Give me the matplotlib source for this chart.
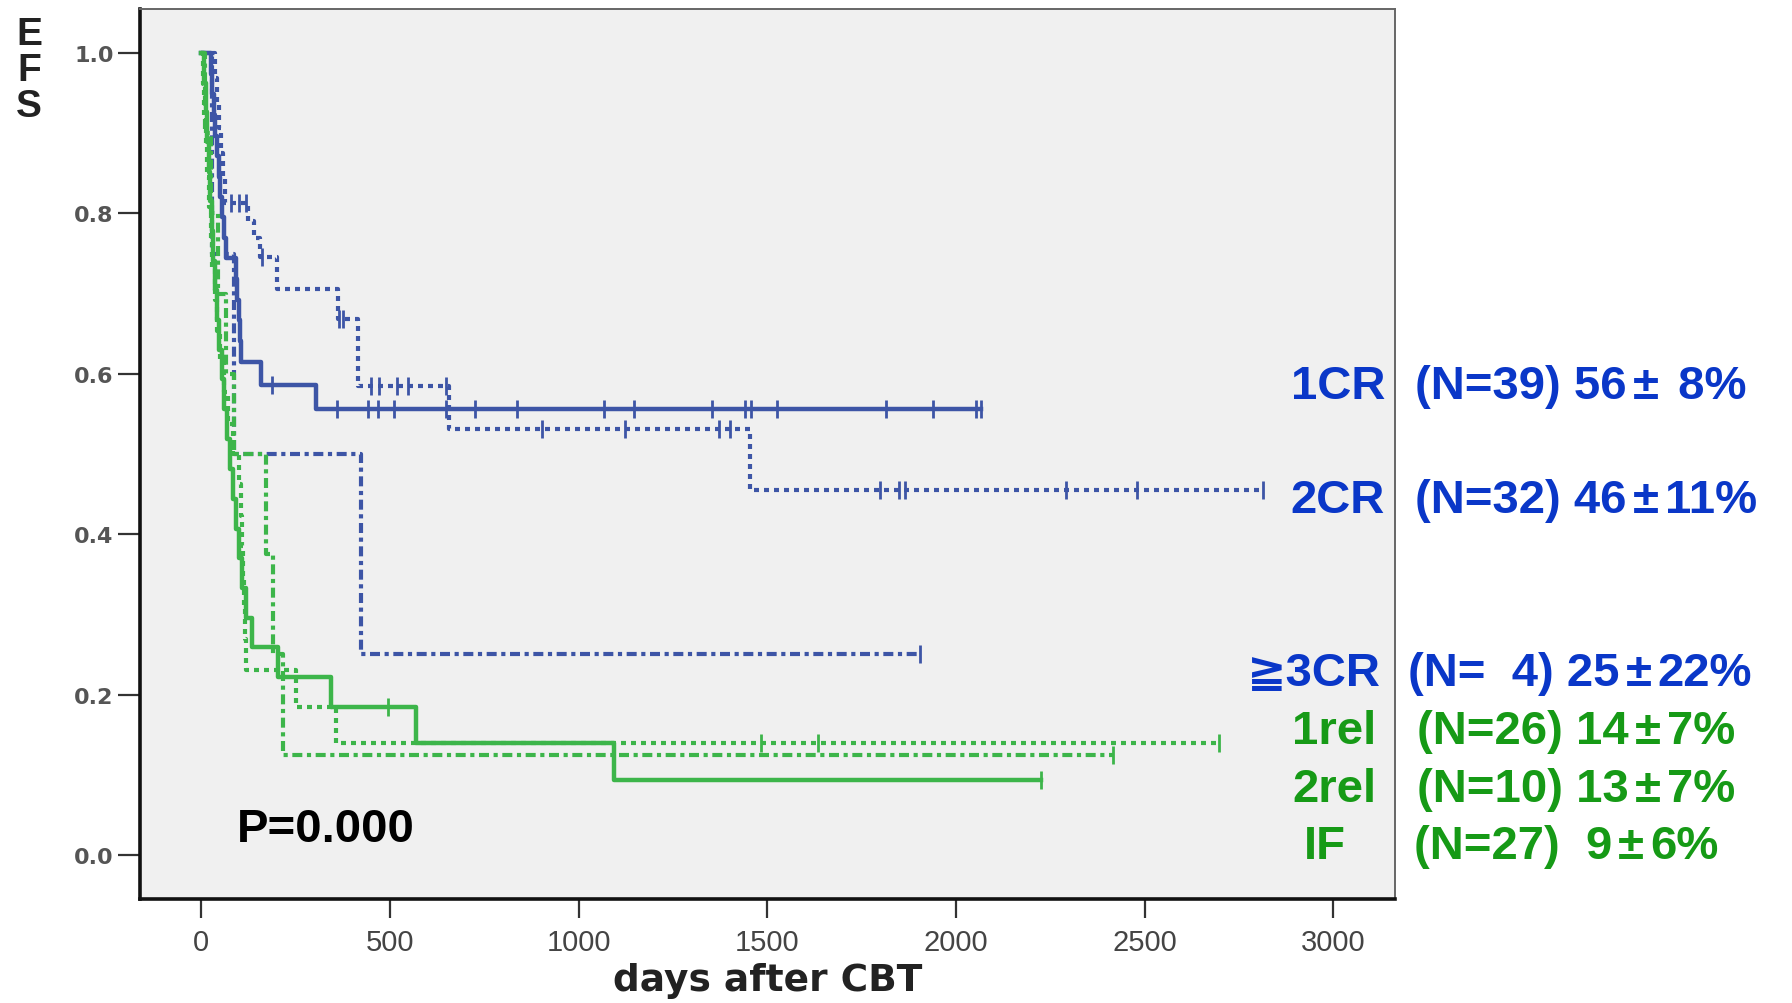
import matplotlib.pyplot as plt
import numpy as np

plt.rcParams['font.family'] = ['Liberation Sans', 'DejaVu Sans', 'Noto Sans CJK JP']

# Kaplan-Meier steps: event day -> EFS after the event
cr1_t = [0, 25, 30, 34, 38, 42, 46, 50, 55, 60, 65, 93, 96, 99, 103, 106, 159, 304]
cr1_s = [1.0, 0.974, 0.949, 0.923, 0.897, 0.872, 0.846, 0.821, 0.795, 0.769, 0.744,
         0.718, 0.692, 0.667, 0.641, 0.615, 0.586, 0.556]
cr1_cens = [104, 189, 360, 442, 469, 512, 650, 726, 838, 1068, 1148, 1354, 1442, 1457,
            1526, 1815, 1938, 2052, 2065]

cr2_t = [0, 38, 42, 48, 53, 58, 64, 125, 140, 155, 200, 362, 415, 656, 1455]
cr2_s = [1.0, 0.969, 0.938, 0.906, 0.875, 0.844, 0.813, 0.79, 0.77, 0.746, 0.706,
         0.668, 0.585, 0.531, 0.455]
cr2_cens = [78, 100, 118, 160, 365, 375, 450, 470, 520, 548, 650, 902, 1124, 1373, 1402,
            1798, 1850, 1865, 2292, 2479, 2813]

cr3_t = [0, 30, 88, 424]
cr3_s = [1.0, 0.75, 0.5, 0.25]
cr3_cens = [1905]

rel1_t = [0, 5, 8, 12, 16, 20, 25, 30, 36, 42, 50, 60, 72, 85, 100, 106, 109, 112, 114,
          117, 119, 251, 357]
rel1_s = [1.0, 0.962, 0.923, 0.885, 0.846, 0.808, 0.769, 0.731, 0.692, 0.654, 0.615,
          0.577, 0.538, 0.5, 0.462, 0.423, 0.385, 0.346, 0.308, 0.269, 0.231, 0.185, 0.139]
rel1_cens = [1482, 1635, 2698]

rel2_t = [0, 10, 25, 45, 65, 88, 172, 190, 217]
rel2_s = [1.0, 0.9, 0.8, 0.7, 0.6, 0.5, 0.375, 0.25, 0.125]
rel2_cens = [2415]

if_t = [0, 8, 12, 16, 20, 24, 28, 32, 36, 42, 48, 54, 60, 68, 76, 84, 92, 100, 108, 120,
        135, 203, 344, 569, 1093]
if_s = [1.0, 0.963, 0.926, 0.889, 0.852, 0.815, 0.778, 0.741, 0.704, 0.667, 0.630, 0.593,
        0.556, 0.519, 0.481, 0.444, 0.407, 0.370, 0.333, 0.296, 0.259, 0.222, 0.185,
        0.139, 0.093]
if_cens = [494, 2225]

group_names = ['1CR', '2CR', '\u22673CR', '1rel', '2rel', 'IF']
group_n = ['(N=39) ', '(N=32) ', '(N=  4) ', '(N=26) ', '(N=10) ', '(N=27)  ']
group_est = ['56', '46', '25', '14', '13', '9']
group_se = [' 8%', '11%', '22%', '7%', '7%', '6%']

BLUE = '#3d55a6'
GREEN = '#3db54a'
dotted = (0, (1.2, 1.2))
dashdot = (0, (2.4, 1.1, 1.0, 1.1))


def km_line(ax, t, s, cens, color, ls, lw):
    tt = list(t) + [max(cens)]
    ss = list(s) + [s[-1]]
    ax.step(tt, ss, where='post', color=color, linestyle=ls, linewidth=lw)
    idx = np.searchsorted(t, cens, side='right') - 1
    ax.plot(cens, np.array(s)[idx], linestyle='none', marker='|', ms=13, mew=2.0,
            color=color)


fig = plt.figure(figsize=(17.92, 10.04), dpi=100)
ax = fig.add_axes([140 / 1792, 104 / 1004, 1255 / 1792, 890 / 1004])
ax.set_facecolor('#f0f0f0')

km_line(ax, cr1_t, cr1_s, cr1_cens, BLUE, '-', 3.2)
km_line(ax, cr2_t, cr2_s, cr2_cens, BLUE, dotted, 3.0)
km_line(ax, cr3_t, cr3_s, cr3_cens, BLUE, dashdot, 3.0)
km_line(ax, rel1_t, rel1_s, rel1_cens, GREEN, dotted, 3.0)
km_line(ax, rel2_t, rel2_s, rel2_cens, GREEN, dashdot, 3.0)
km_line(ax, if_t, if_s, if_cens, GREEN, '-', 3.2)

ax.set_xlim(-162, 3163)
ax.set_ylim(-0.055, 1.055)
ax.set_xticks([0, 500, 1000, 1500, 2000, 2500, 3000])
ax.set_yticks([0.0, 0.2, 0.4, 0.6, 0.8, 1.0])
ax.set_yticklabels(['0.0', '0.2', '0.4', '0.6', '0.8', '1.0'])

for side in ['left', 'bottom']:
    ax.spines[side].set_linewidth(2.6)
    ax.spines[side].set_color('#111111')
for side in ['top', 'right']:
    ax.spines[side].set_linewidth(1.4)
    ax.spines[side].set_color('#666666')

ax.tick_params(axis='y', length=16, width=1.6, pad=3, labelsize=16, labelcolor='#555555',
               color='#333333')
ax.tick_params(axis='x', length=14, width=1.6, pad=7, labelsize=21, labelcolor='#444444',
               color='#333333')
for lab in ax.get_yticklabels():
    lab.set_family(['DejaVu Sans'])
    lab.set_fontweight('bold')
for lab in ax.get_xticklabels():
    lab.set_family(['Liberation Sans Narrow', 'Liberation Sans'])

ax.set_xlabel('days after CBT', fontsize=27, fontweight='bold', color='#222222',
              family=['DejaVu Sans'], labelpad=4)

fig.text(29 / 1792, 1 - 17 / 1004, 'E\nF\nS', ha='center', va='top', fontsize=28,
         fontweight='bold', color='#222222', linespacing=1.0)

ax.text(95, 0.017, 'P=0.000', fontsize=34, fontweight='bold', color='black',
        ha='left', va='baseline')

label_right = [1385, 1385, 1381, 1376, 1376, 1346]
stats_left = [1415, 1415, 1408, 1417, 1417, 1414]
baselines = [399, 513, 686, 744, 802, 859]
text_colors = ['#0a37c8', '#0a37c8', '#0a37c8', '#169a16', '#169a16', '#169a16']
renderer = fig.canvas.get_renderer()
for i in range(len(group_names)):
    yb = 1 - baselines[i] / 1004
    c = text_colors[i]
    fig.text(label_right[i] / 1792, yb, group_names[i], ha='right', va='baseline',
             fontsize=34, fontweight='bold', color=c)
    # stats written piece by piece so the +- sign gets some room like the original
    x = stats_left[i]
    for piece, gap in [(group_n[i] + group_est[i], 6), ('\u00b1', 6), (group_se[i], 0)]:
        t = fig.text(x / 1792, yb, piece, ha='left', va='baseline', fontsize=34,
                     fontweight='bold', color=c)
        x += t.get_window_extent(renderer).width + gap

fig.savefig('out.png', dpi=100, facecolor='white')
